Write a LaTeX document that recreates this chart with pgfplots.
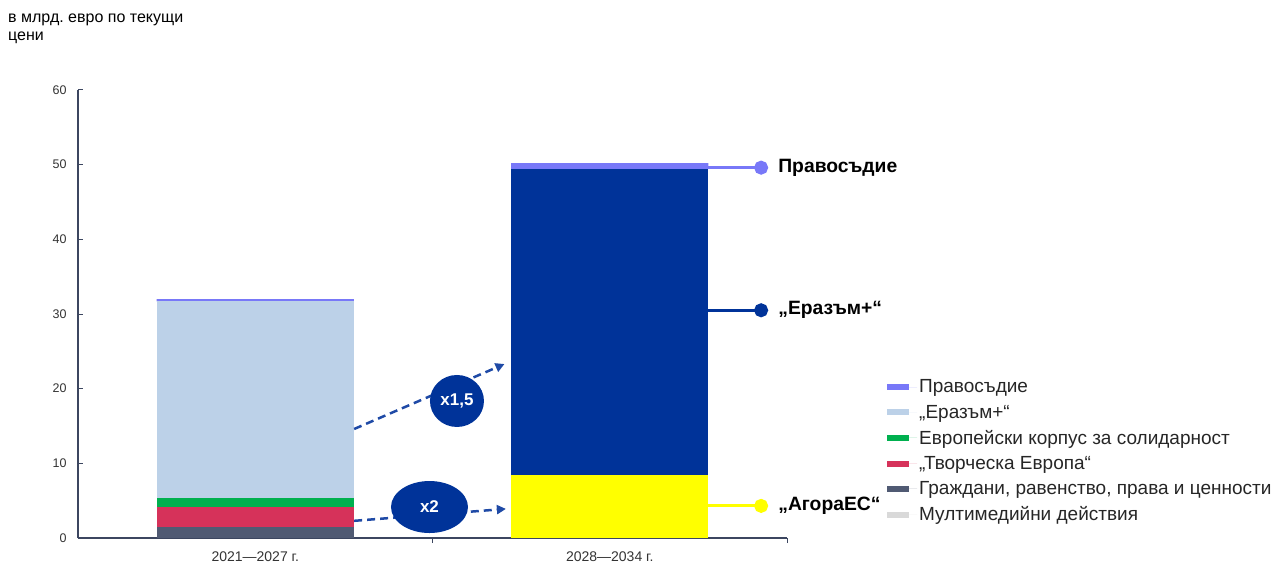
\documentclass[border=0pt]{standalone}
\usepackage{fontspec}
\setmainfont{Liberation Sans}
\usepackage{pgfplots}
\pgfplotsset{compat=1.18}
\usepackage{pgfplotstable}
\usetikzlibrary{arrows.meta,shapes.geometric}
\frenchspacing

\definecolor{jus}{HTML}{7878F8}
\definecolor{erl}{HTML}{BCD1E8}
\definecolor{esc}{HTML}{00B04F}
\definecolor{cre}{HTML}{D6325A}
\definecolor{cit}{HTML}{505A73}
\definecolor{mm}{HTML}{D9D9D9}
\definecolor{ago}{HTML}{FFFF00}
\definecolor{erd}{HTML}{003399}
\definecolor{arr}{HTML}{1F4AA6}
\definecolor{axc}{HTML}{3C4660}
\definecolor{tkc}{HTML}{333333}

% values in bn EUR, current prices
\pgfplotstableread{
x mm  cit ce  esc ago erl  erd  jus
0 0   1.5 2.7 1.1 0   26.4 0    0.3
1 0   0   0   0   8.5 0    40.9 0.8
}\budget

\pgfplotsset{
  frame/.style={scale only axis, width=709pt, height=448pt,
    xmin=-0.5, xmax=1.5, ymin=0, ymax=60, clip=false},
  seg/.style={fill=#1, draw=none},
}

\begin{document}
\begin{tikzpicture}
\useasboundingbox (-78pt,-24pt) rectangle (1195pt,538pt);
\begin{axis}[
    frame,
    ybar stacked,
    bar width=0.556,
    axis x line*=bottom,
    axis y line*=left,
    axis line style={draw=axc, line width=1.2pt},
    tick style={draw=axc, line width=1pt},
    tick align=inside,
    major tick length=5pt,
    ytick={0,10,...,60},
    xtick={0.5,1.5},
    xticklabels={},
    x tick style={yshift=-5pt},
    extra x ticks={0,1},
    extra x tick labels={2021—2027 г., 2028—2034 г.},
    extra x tick style={major tick length=0pt},
    xticklabel style={font=\fontsize{14}{16}\selectfont, text=tkc, yshift=-10pt},
    yticklabel style={font=\fontsize{12.5}{14}\selectfont, text=tkc, xshift=-8pt},
    /pgf/number format/assume math mode=true,
    reverse legend,
    legend style={at={(1.141,0.358)}, anchor=north west, draw=none, fill=none,
        font=\fontsize{19}{21}\selectfont, text=black!85, row sep=6.6pt,
        inner sep=0pt},
    legend cell align=left,
    legend image code/.code={\fill[#1] (0pt,-3pt) rectangle (22pt,3pt);
        \path (0pt,0pt) -- (30pt,0pt);},
]
\addplot[seg=mm] table[x=x, y=mm] {\budget};
\addlegendentry{Мултимедийни действия}
\addplot[seg=cit] table[x=x, y=cit] {\budget};
\addlegendentry{Граждани, равенство, права и ценности}
\addplot[seg=cre] table[x=x, y=ce] {\budget};
\addlegendentry{„Творческа Европа“}
\addplot[seg=esc] table[x=x, y=esc] {\budget};
\addlegendentry{Европейски корпус за солидарност}
\addplot[seg=ago, forget plot] table[x=x, y=ago] {\budget};
\addplot[seg=erl] table[x=x, y=erl] {\budget};
\addlegendentry{„Еразъм+“}
\addplot[seg=erd, forget plot] table[x=x, y=erd] {\budget};
\addplot[seg=jus] table[x=x, y=jus] {\budget};
\addlegendentry{Правосъдие}
\end{axis}

\begin{axis}[frame, axis lines=none]
% growth arrows
\addplot[arr, line width=2.5pt, dash pattern=on 8pt off 5pt,
    -{Triangle[length=9pt,width=9pt]}] coordinates {(0.279,14.6) (0.703,23.3)};
\addplot[arr, line width=2.5pt, dash pattern=on 8pt off 5pt,
    -{Triangle[length=9pt,width=9pt]}] coordinates {(0.279,2.3) (0.707,3.9)};
% leader lines to the callouts
\addplot[jus, line width=3pt, mark=*, mark indices={2}, mark size=5.5pt]
    coordinates {(1.277,49.6) (1.427,49.6)};
\addplot[erd, line width=3pt, mark=*, mark indices={2}, mark size=5.5pt]
    coordinates {(1.277,30.5) (1.427,30.5)};
\addplot[ago, line width=3pt, mark=*, mark indices={2}, mark size=5.5pt]
    coordinates {(1.277,4.3) (1.427,4.3)};
\node[anchor=west, inner sep=0pt, font=\bfseries\fontsize{19.3}{21}\selectfont]
    at (axis cs:1.475,49.6) {Правосъдие};
\node[anchor=west, inner sep=0pt, font=\bfseries\fontsize{19.3}{21}\selectfont]
    at (axis cs:1.475,30.5) {„Еразъм+“};
\node[anchor=west, inner sep=0pt, font=\bfseries\fontsize{19.3}{21}\selectfont]
    at (axis cs:1.475,4.3) {„АгораЕС“};
\node[ellipse, fill=erd, text=white, inner sep=0pt, minimum width=54pt,
    minimum height=52pt, font=\bfseries\fontsize{17}{19}\selectfont]
    at (axis cs:0.569,18.35) {x1,5};
\node[ellipse, fill=erd, text=white, inner sep=0pt, minimum width=77pt,
    minimum height=52pt, font=\bfseries\fontsize{17}{19}\selectfont]
    at (axis cs:0.4915,4.15) {x2};
\end{axis}

\node[anchor=base west, inner sep=0pt, font=\fontsize{16}{18}\selectfont]
    at (-70pt,515pt) {в млрд. евро по текущи};
\node[anchor=base west, inner sep=0pt, font=\fontsize{16}{18}\selectfont]
    at (-70pt,497pt) {цени};
\end{tikzpicture}
\end{document}
